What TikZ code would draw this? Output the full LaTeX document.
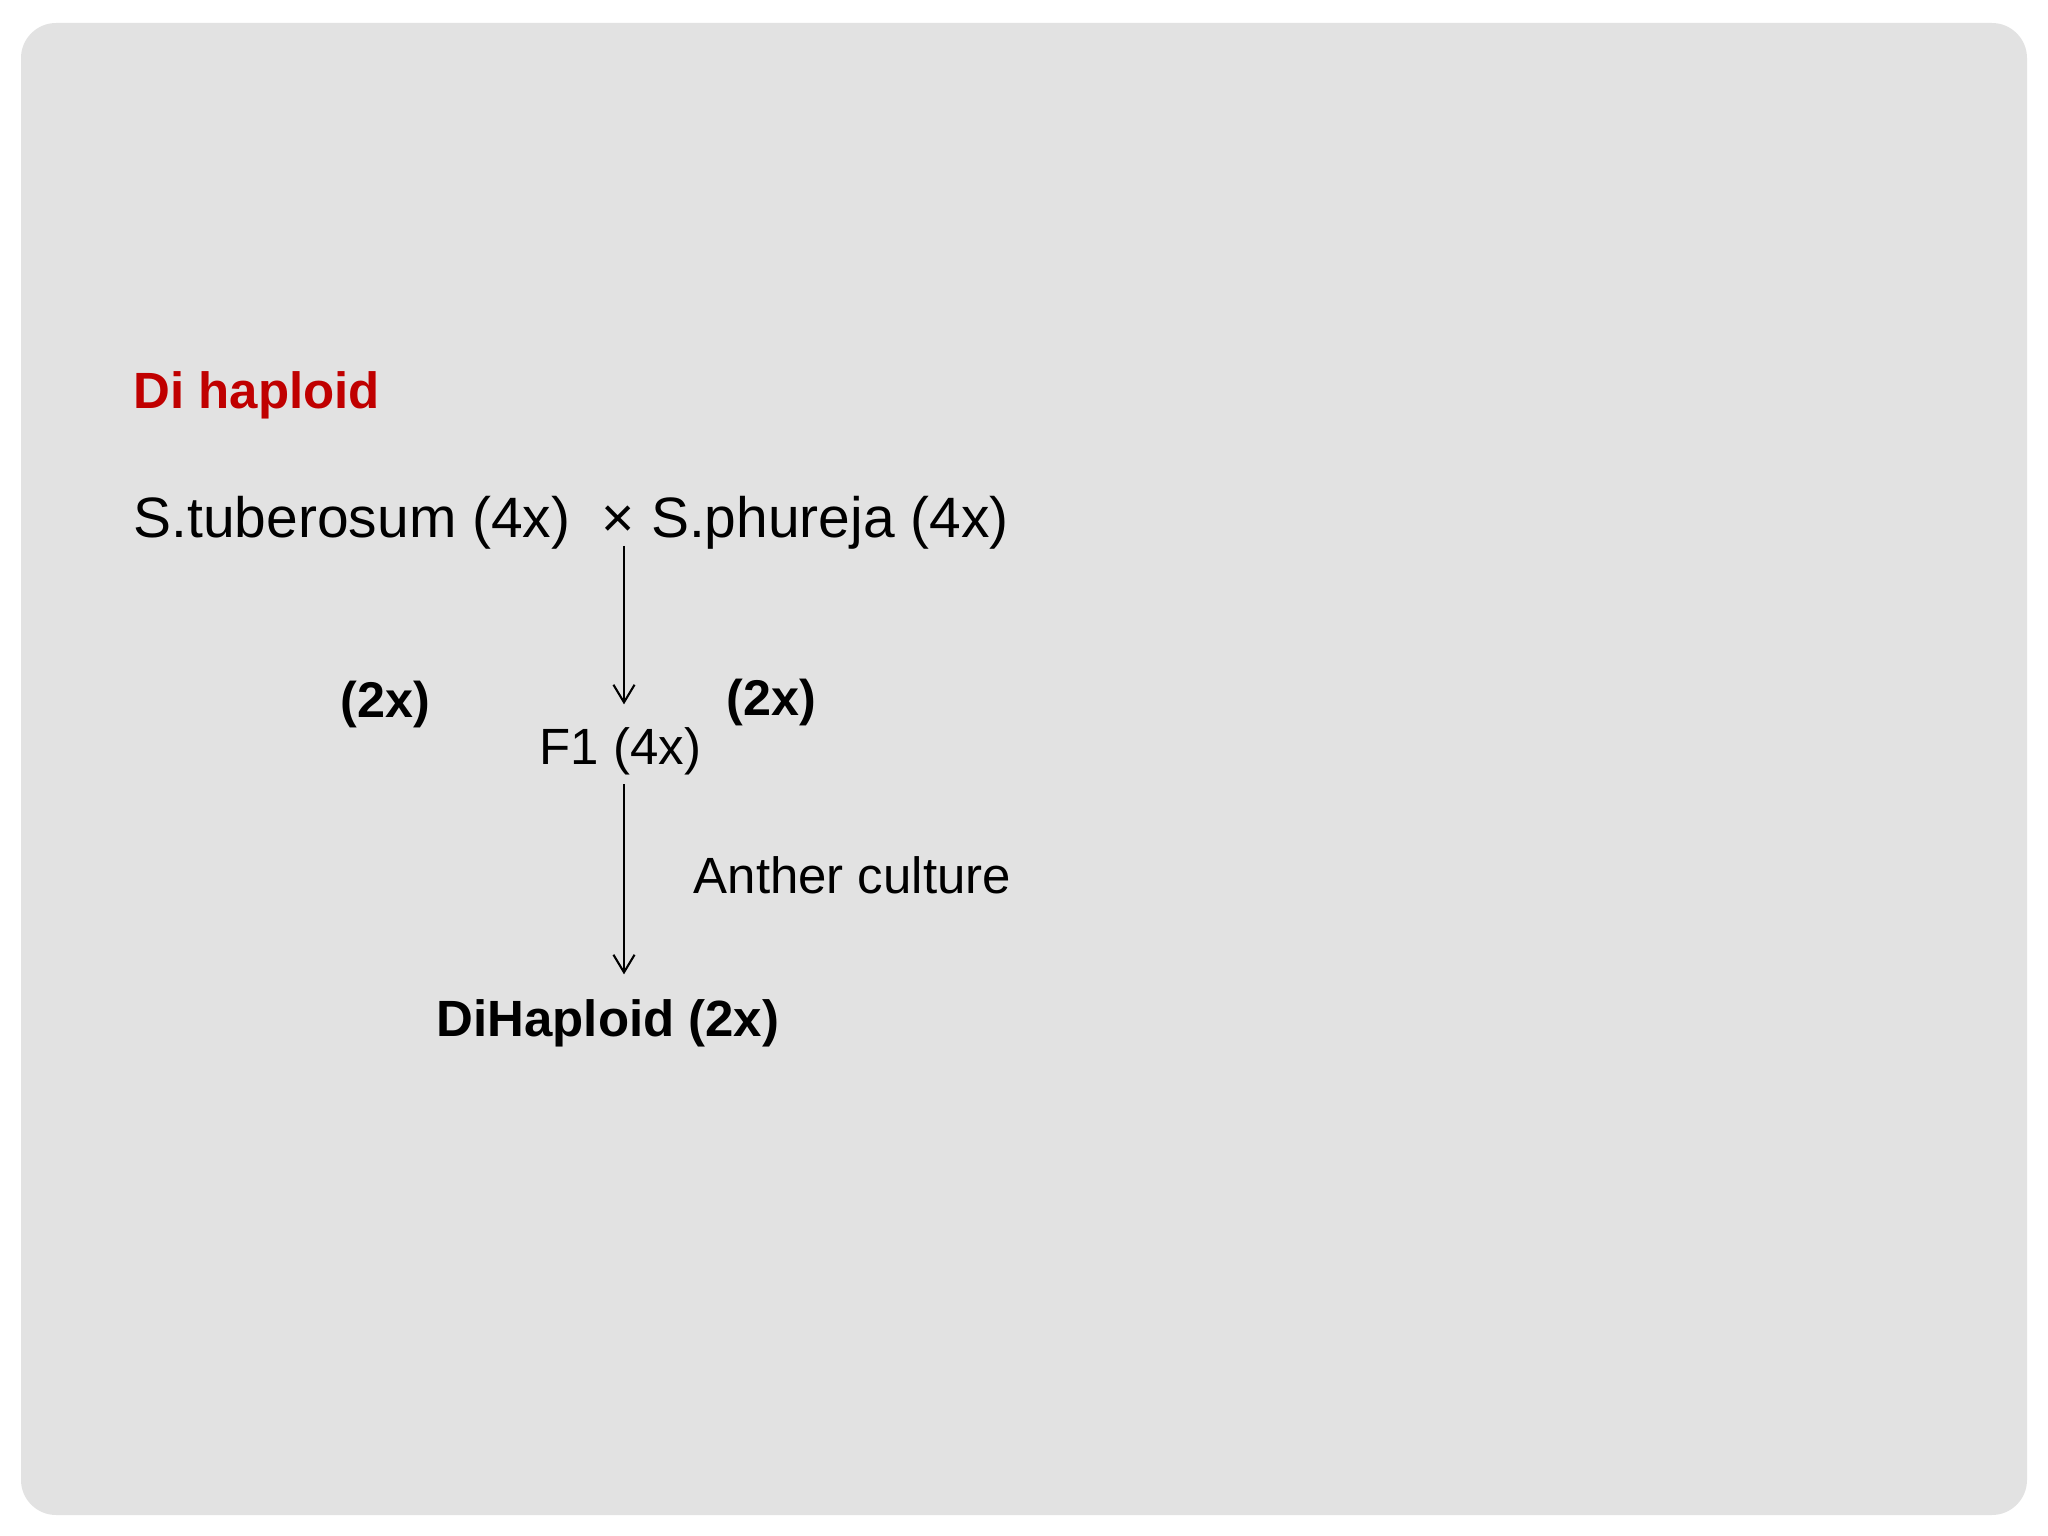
\documentclass[tikz,border=0pt]{standalone}
\usepackage{fontspec}
\setmainfont{Liberation Sans}
\usepackage{xcolor}
\usetikzlibrary{arrows.meta,calc}

\definecolor{slidegray}{RGB}{226,226,226}
\definecolor{titlered}{RGB}{192,0,0}

\begin{document}
\begin{tikzpicture}[>={Straight Barb[length=5pt,width=6pt]},
    txt/.style={inner sep=0pt, anchor=base west, font=\fontsize{14.5}{17}\selectfont},
    arr/.style={->, line width=0.6pt}]
    \useasboundingbox (0,0) rectangle (20.48,-15.36);
    \fill[white] (0,0) rectangle (20.48,-15.36);
    \fill[slidegray, rounded corners=10pt] (0.21,-0.23) rectangle (20.27,-15.15);

    \coordinate (T) at (1.33,-4.09);
    \coordinate (C) at (1.33,-5.38);
    \coordinate (L) at (3.40,-7.18);
    \coordinate (R) at (7.26,-7.16);
    \coordinate (F) at (5.39,-7.64);
    \coordinate (A) at (6.93,-8.93);
    \coordinate (D) at (4.36,-10.37);
    \coordinate (S1) at (6.24,-5.46);

    \node (title) at (T) [txt, text=titlered, font=\fontsize{14.5}{17}\selectfont\bfseries] {Di haploid};
    \node (cross) at (C) [txt, font=\fontsize{16.2}{19}\selectfont] {S.tuberosum (4x)\ \ × S.phureja (4x)};
    \node (lhalf) at (L) [txt, font=\fontsize{14.3}{17}\selectfont\bfseries] {(2x)};
    \node (rhalf) at (R) [txt, font=\fontsize{14.3}{17}\selectfont\bfseries] {(2x)};
    \node (f1) at (F) [txt] {F1 (4x)};
    \node (anther) at (A) [txt] {Anther culture};
    \node (dihap) at (D) [txt, font=\fontsize{14.5}{17}\selectfont\bfseries] {DiHaploid (2x)};

    \draw[arr] (S1) -- ([yshift=2.2mm]f1.north -| S1);
    \draw[arr] ([yshift=-0.9mm]f1.south -| S1) -- ([yshift=2.5mm]dihap.north -| S1);
\end{tikzpicture}
\end{document}
